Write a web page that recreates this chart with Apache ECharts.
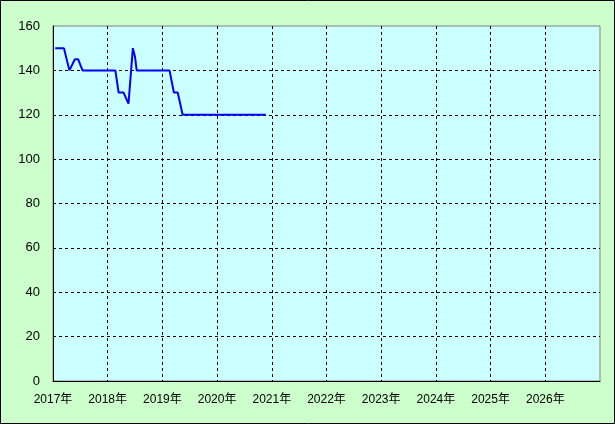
<!DOCTYPE html>
<html><head><meta charset="utf-8">
<script src="https://cdn.jsdelivr.net/npm/echarts@6/dist/echarts.min.js"></script>
<style>html,body{margin:0;padding:0;background:#CCFFCC}#c{width:615px;height:424px}</style>
</head><body><div id="c"></div>
<script>
// time in fractional years, values
const years = [2017.04, 2017.20, 2017.30, 2017.40, 2017.46, 2017.54, 2018.14, 2018.20, 2018.29, 2018.38, 2018.46, 2018.50, 2018.53, 2019.13, 2019.21, 2019.28, 2019.37, 2020.89];
const values = [150, 150, 140, 145, 145, 140, 140, 130, 130, 125, 150, 146, 140, 140, 130, 130, 120, 120];
const yTicks = [0, 20, 40, 60, 80, 100, 120, 140, 160];
const xTickYears = [2017, 2018, 2019, 2020, 2021, 2022, 2023, 2024, 2025, 2026];

const font = '"Liberation Sans", "Noto Sans CJK JP", sans-serif';
const chart = echarts.init(document.getElementById('c'));
chart.setOption({
  backgroundColor: '#CCFFCC',
  animation: false,
  graphic: [{type: 'rect', shape: {x: 0.5, y: 0.5, width: 614, height: 423}, style: {fill: 'none', stroke: '#000', lineWidth: 1}, silent: true, z: 100}],
  grid: {left: 53, top: 26, right: 15, bottom: 43, show: true, backgroundColor: '#CCFFFF', borderColor: '#808080', borderWidth: 1},
  xAxis: {
    type: 'value', min: 2017, max: 2027, interval: 1,
    axisLine: {show: true, onZero: false, lineStyle: {color: '#000', width: 1}},
    axisTick: {show: false},
    axisLabel: {color: '#000', fontFamily: font, fontSize: 12, margin: 13,
      formatter: v => xTickYears.includes(v) ? v + '年' : ''},
    splitLine: {show: true, showMinLine: false, showMaxLine: false, lineStyle: {color: '#000', type: [3, 3], width: 1}}
  },
  yAxis: {
    type: 'value', min: yTicks[0], max: yTicks[yTicks.length - 1], interval: 20,
    axisLine: {show: true, lineStyle: {color: '#000', width: 1}},
    axisTick: {show: false},
    axisLabel: {color: '#000', fontFamily: font, fontSize: 13, margin: 13},
    splitLine: {show: true, showMinLine: false, showMaxLine: false, lineStyle: {color: '#000', type: [3, 3], width: 1}}
  },
  series: [{
    type: 'line', data: years.map((y, i) => [y, values[i]]),
    showSymbol: false, lineStyle: {color: '#0000FF', width: 2}, itemStyle: {color: '#0000FF'}
  }]
});
</script></body></html>
